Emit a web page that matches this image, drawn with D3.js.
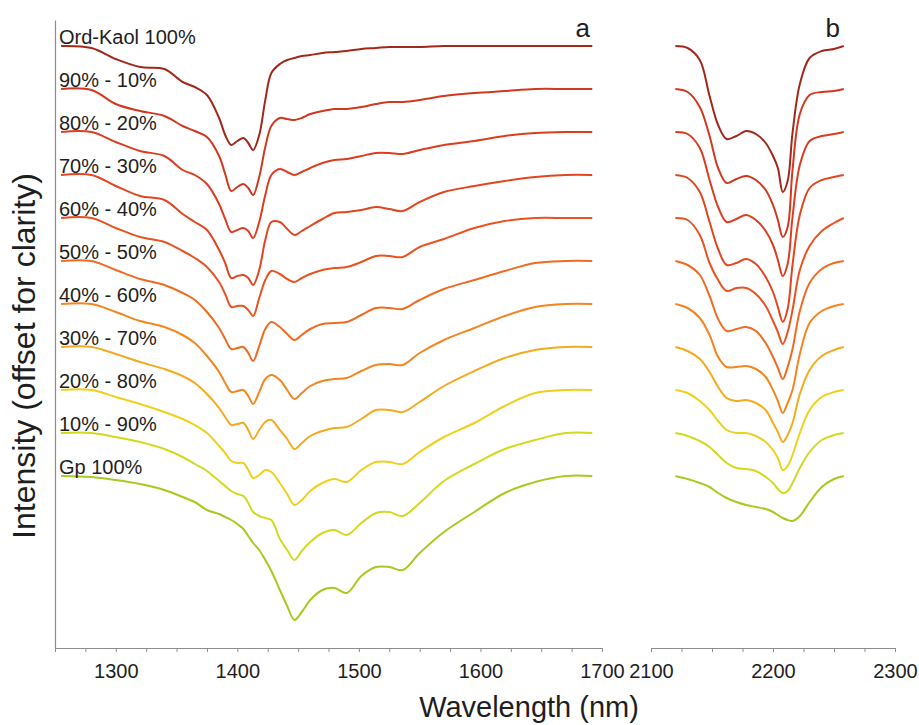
<!DOCTYPE html>
<html>
<head>
<meta charset="utf-8">
<script src="https://cdn.jsdelivr.net/npm/d3@7"></script>
<style>
  html, body { margin: 0; padding: 0; background: #fff; }
  svg { display: block; font-family: 'Liberation Sans', Arial, sans-serif; }
</style>
</head>
<body>
<svg id="chart" width="919" height="725"></svg>
<script>
(function () {
  'use strict';

  // sample names, top to bottom (Ord-Kaol - Gp mixtures)
  var labels = ['Ord-Kaol 100%', '90% - 10%', '80% - 20%', '70% - 30%', '60% - 40%',
    '50% - 50%', '40% - 60%', '30% - 70%', '20% - 80%', '10% - 90%', 'Gp 100%'];

  var colors = ['#a3281c', '#d2381f', '#dc3d1f', '#e3451f', '#ea5320', '#f06b20',
    '#f4861f', '#f6aa1e', '#efd01c', '#d2da1e', '#a8ca1e'];

  // vertical offset of each spectrum (a.u.)
  var offsets = [602, 559, 516, 473, 430, 387, 344, 301, 258, 215, 172];

  // panel a wavelengths (nm)
  var waveA = [1255, 1280, 1300, 1320, 1340, 1355, 1365, 1375, 1385, 1390, 1395, 1400,
    1405, 1409, 1413, 1418, 1423, 1428, 1435, 1441, 1447, 1453, 1460, 1470, 1480,
    1490, 1502, 1514, 1525, 1536, 1550, 1570, 1595, 1620, 1645, 1670, 1692];

  // panel a absorption depth below each offset (a.u.)
  var depthA = [
    [0, 2, 13, 21, 23, 36, 41, 49, 72, 89, 99, 95, 92, 97, 104, 89, 54, 27, 18, 14, 12, 10, 9, 7, 6, 5, 3, 2, 1, 1, 1, 0, 0, 0, 0, 0, 0],
    [0, 1, 15, 22, 27, 37, 42, 48, 67, 85, 102, 98, 95, 99, 106, 88, 58, 37, 29, 30, 31, 29, 25, 22, 20, 20, 18, 15, 13, 13, 11, 7, 4, 2, 0, 0, 0],
    [0, 0, 10, 19, 24, 38, 43, 52, 72, 87, 100, 98, 96, 99, 106, 90, 63, 43, 37, 40, 43, 40, 36, 31, 28, 27, 24, 21, 21, 22, 18, 13, 9, 4, 1, 0, 0],
    [0, 0, 11, 21, 25, 39, 47, 55, 75, 88, 103, 101, 100, 103, 110, 95, 65, 47, 47, 54, 60, 56, 51, 44, 38, 37, 35, 32, 34, 36, 27, 17, 11, 6, 2, 0, 0],
    [0, 0, 10, 19, 24, 33, 40, 49, 64, 76, 89, 88, 88, 92, 98, 80, 62, 53, 56, 61, 64, 60, 56, 52, 50, 49, 44, 38, 38, 39, 29, 21, 10, 3, 0, 0, 0],
    [0, 0, 9, 18, 24, 32, 39, 51, 67, 78, 88, 87, 86, 92, 100, 85, 68, 61, 66, 73, 79, 74, 68, 63, 62, 61, 54, 47, 47, 48, 39, 28, 19, 10, 2, 0, 0],
    [0, 0, 8, 17, 23, 31, 39, 52, 68, 79, 88, 87, 86, 92, 100, 88, 75, 71, 76, 86, 95, 89, 82, 77, 75, 74, 67, 61, 60, 61, 49, 36, 24, 12, 3, 0, 0],
    [0, 0, 7, 15, 22, 29, 36, 47, 61, 70, 78, 77, 76, 83, 92, 83, 75, 73, 83, 92, 102, 96, 89, 84, 81, 80, 72, 63, 63, 65, 55, 39, 24, 11, 3, 0, 0],
    [0, 0, 7, 14, 22, 29, 35, 43, 56, 63, 71, 73, 73, 80, 88, 85, 80, 82, 93, 104, 115, 110, 101, 93, 89, 92, 80, 72, 72, 74, 62, 47, 33, 16, 3, 0, 0],
    [0, 0, 4, 9, 16, 24, 31, 38, 48, 53, 58, 61, 63, 70, 79, 83, 85, 87, 106, 117, 127, 118, 109, 100, 97, 102, 90, 80, 79, 83, 70, 48, 31, 16, 7, 0, 0],
    [0, 1, 4, 8, 14, 21, 26, 34, 38, 41, 44, 48, 53, 60, 67, 74, 84, 95, 114, 130, 144, 136, 124, 114, 112, 117, 100, 91, 91, 94, 77, 56, 36, 17, 6, 0, 0]
  ];

  // panel b wavelengths (nm)
  var waveB = [2120, 2130, 2140, 2148, 2155, 2162, 2170, 2178, 2186, 2194, 2200, 2204,
    2208, 2212, 2216, 2222, 2230, 2240, 2250, 2258];

  var depthB = [
    [0, 2, 14, 50, 79, 93, 90, 85, 88, 97, 110, 122, 146, 135, 87, 38, 12, 5, 3, 0],
    [0, 3, 18, 47, 79, 94, 90, 87, 91, 101, 116, 131, 148, 138, 81, 25, 6, 3, 2, 0],
    [0, 2, 16, 48, 75, 90, 87, 83, 88, 99, 113, 128, 144, 132, 85, 33, 9, 4, 2, 0],
    [0, 3, 17, 47, 74, 90, 88, 84, 89, 102, 117, 132, 147, 134, 90, 40, 13, 5, 2, 0],
    [0, 2, 17, 45, 62, 73, 70, 70, 76, 88, 103, 114, 126, 114, 92, 52, 28, 13, 5, 0],
    [0, 4, 14, 35, 58, 70, 68, 66, 70, 82, 96, 107, 118, 106, 88, 50, 22, 8, 2, 0],
    [0, 4, 14, 31, 53, 63, 63, 62, 65, 73, 86, 97, 109, 99, 86, 50, 19, 7, 2, 0],
    [0, 4, 12, 25, 40, 51, 54, 53, 56, 63, 76, 85, 95, 88, 76, 47, 23, 9, 3, 0],
    [0, 3, 11, 20, 31, 40, 43, 43, 46, 52, 60, 68, 80, 76, 65, 43, 20, 7, 2, 0],
    [0, 3, 8, 14, 22, 30, 35, 36, 38, 44, 50, 56, 60, 58, 50, 35, 19, 7, 2, 0],
    [0, 3, 7, 11, 17, 22, 26, 29, 31, 33, 36, 39, 42, 44, 45, 40, 26, 11, 3, 0]
  ];

  var tickLabelsA = [1300, 1400, 1500, 1600, 1700];
  var tickLabelsB = [2100, 2200, 2300];

  var svg = d3.select('#chart');
  var axisY = 648;

  var xA = d3.scaleLinear().domain([1250, 1700]).range([55, 602]);
  var xB = d3.scaleLinear().domain([2100, 2300]).range([651, 895]);
  var y = d3.scaleLinear().domain([0, 628]).range([axisY, 20]);

  drawAxis(xA, d3.range(1250, 1701, 25), tickLabelsA);
  drawAxis(xB, d3.range(2100, 2301, 25), tickLabelsB);

  // left axis line only, no ticks
  var yAxisG = svg.append('g')
      .attr('transform', 'translate(55,0)')
      .call(d3.axisLeft(y).tickValues([]).tickSizeOuter(0));
  yAxisG.select('.domain').attr('stroke', '#8c8c8c').attr('stroke-width', 1.2);

  drawPanel(xA, waveA, depthA);
  drawPanel(xB, waveB, depthB);

  // sample labels sit just above the start of each spectrum
  svg.append('g').selectAll('text')
      .data(labels)
    .enter().append('text')
      .attr('x', 59)
      .attr('y', function (d, i) { return y(offsets[i]) - 2; })
      .attr('font-size', 20)
      .attr('fill', '#1e1e1e')
      .text(function (d) { return d; });

  svg.append('text')
      .attr('x', 590).attr('y', 37)
      .attr('text-anchor', 'end')
      .attr('font-size', 26)
      .attr('fill', '#1e1e1e')
      .text('a');

  svg.append('text')
      .attr('x', 840).attr('y', 37)
      .attr('text-anchor', 'end')
      .attr('font-size', 26)
      .attr('fill', '#1e1e1e')
      .text('b');

  svg.append('text')
      .attr('x', 529).attr('y', 717)
      .attr('text-anchor', 'middle')
      .attr('font-size', 29)
      .attr('fill', '#1e1e1e')
      .text('Wavelength (nm)');

  svg.append('text')
      .attr('transform', 'translate(35,356) rotate(-90)')
      .attr('text-anchor', 'middle')
      .attr('font-size', 32)
      .attr('fill', '#1e1e1e')
      .text('Intensity (offset for clarity)');

  function drawAxis (scale, ticks, shown) {
    var axis = d3.axisBottom(scale)
        .tickValues(ticks)
        .tickSize(4)
        .tickSizeOuter(0)
        .tickPadding(12)
        .tickFormat(function (d) { return shown.indexOf(d) >= 0 ? d : ''; });

    var g = svg.append('g')
        .attr('transform', 'translate(0,' + axisY + ')')
        .call(axis);

    g.attr('font-family', null).attr('font-size', null);
    g.select('.domain').attr('stroke', '#8c8c8c').attr('stroke-width', 1.2);
    g.selectAll('.tick line').attr('stroke', '#8c8c8c');
    g.selectAll('.tick text')
        .attr('font-size', 20)
        .attr('fill', '#1e1e1e');
  }

  function drawPanel (scale, waves, depths) {
    var line = d3.line()
        .curve(d3.curveCatmullRom.alpha(0.5))
        .x(function (d) { return scale(d.w); })
        .y(function (d) { return y(d.v); });

    svg.append('g').selectAll('path')
        .data(depths)
      .enter().append('path')
        .attr('fill', 'none')
        .attr('stroke', function (d, i) { return colors[i]; })
        .attr('stroke-width', 2)
        .attr('stroke-linejoin', 'round')
        .attr('d', function (d, i) {
          return line(d.map(function (depth, j) {
            return {w: waves[j], v: offsets[i] - depth};
          }));
        });
  }
})();
</script>
</body>
</html>
